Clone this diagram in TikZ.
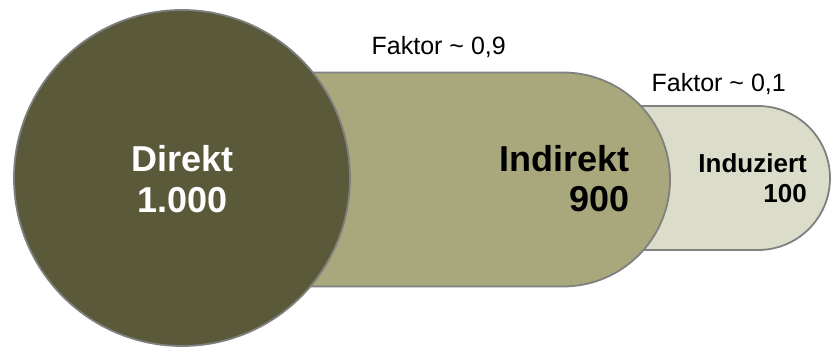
\documentclass[tikz,border=0pt]{standalone}
\usepackage{fontspec}
\setmainfont{Liberation Sans}
\definecolor{direktc}{RGB}{90,90,58}
\definecolor{indirektc}{RGB}{168,168,124}
\definecolor{induziertc}{RGB}{220,220,202}
\definecolor{rimc}{RGB}{128,128,128}
\tikzset{
  blob/.style={draw=rimc, line width=1.8pt},
  bigtxt/.style={inner sep=0pt, font=\fontsize{36}{40}\selectfont\bfseries},
  midtxt/.style={inner sep=0pt, font=\fontsize{26}{30}\selectfont\bfseries},
  factxt/.style={inner sep=0pt, anchor=base west, font=\fontsize{25}{29}\selectfont}
}
\newcommand{\fakt}[1]{Faktor \textasciitilde\ 0,#1}
\begin{document}
\begin{tikzpicture}[x=1pt,y=1pt]
\useasboundingbox (0,0) rectangle (832,347);
% Induziert shape
\path[blob, fill=induziertc] (560,241) -- (758,241) arc[start angle=90, end angle=-90, radius=72] -- (560,97) -- cycle;
% Indirekt shape
\path[blob, fill=indirektc] (250,274.5) -- (563,274.5) arc[start angle=90, end angle=-90, radius=107] -- (250,60.5) -- cycle;
% Direkt circle
\path[blob, fill=direktc] (182,169) circle[radius=168];
% texts
\node[bigtxt, text=white, anchor=base] (d1) at (182.5,175) {Direkt};
\node[bigtxt, text=white, anchor=base] (d2) at (182.5,134) {1.000};
\node[bigtxt, text=black, anchor=base east] (i1) at (629.5,175) {Indirekt};
\node[bigtxt, text=black, anchor=base east] (i2) at (629.5,135) {900};
\node[midtxt, text=black, anchor=base east] (u1) at (807,174) {Induziert};
\node[midtxt, text=black, anchor=base east] (u2) at (807,144) {100};
\node[factxt] (f1) at (371.5,292) {\fakt{9}};
\node[factxt] (f2) at (651.5,255.7) {\fakt{1}};
\end{tikzpicture}
\end{document}
